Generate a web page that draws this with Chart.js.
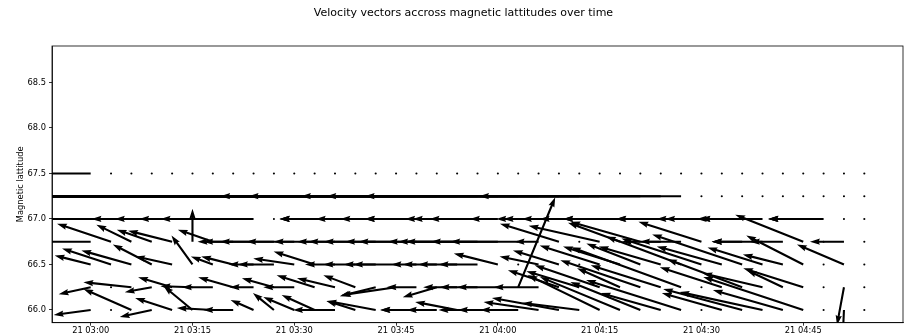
<!DOCTYPE html>
<html>
<head>
<meta charset="utf-8">
<script src="https://cdn.jsdelivr.net/npm/chart.js@4.4.1/dist/chart.umd.min.js"></script>
<style>
  html, body { margin: 0; padding: 0; background: #fff; }
</style>
</head>
<body>
<canvas id="quiverChart" width="905" height="336"></canvas>
<script>
// minutes after 21 03:00, one column every 3 minutes
const times = [0, 3, 6, 9, 12, 15, 18, 21, 24, 27, 30, 33, 36, 39, 42, 45, 48, 51, 54, 57,
  60, 63, 66, 69, 72, 75, 78, 81, 84, 87, 90, 93, 96, 99, 102, 105, 108, 111, 114];
const lats = [66.0, 66.25, 66.5, 66.75, 67.0, 67.25, 67.5];

const timeTicks = [0, 15, 30, 45, 60, 75, 90, 105];
const latTicks = [66.0, 66.5, 67.0, 67.5, 68.0, 68.5];

const chartTitle = "Velocity vectors accross magnetic lattitudes over time";

// east / north velocity components (quiver units), one value per column
const u_6600 = [-37, 0, -48, -32, -37, -29, -36, -30, -23, -21, -31, -33, -42, -29, -49, -16, -36, -30, -42, -39,
  -40, -38, -55, -67, -57, -72, -80, -70, -60, -95, 0, -60, -79, -83, -70, -100, 0, -1, 0];
const v_6600 = [-5, 0, 21, -7, 12, 24, 2, 0, 10, 17, 13, 15, 0, 9, 9, 0, 0, 0, 8, 0,
  0, 0, 8, 12, 7, 35, 33, 28, 17, 30, 0, 17, 21, 18, 20, 33, 0, -22, 0];

const u_6625 = [-32, 0, -48, -27, -34, -32, -31, -35, -24, -32, -31, -38, -38, -32, -36, -55, -30, -34, -34, -38,
  -41, 37, -45, -51, -53, -65, -43, -80, -70, -110, 0, -62, -75, -60, -36, -60, 0, -7, 0];
const v_6625 = [-7, 0, 5, -5, 10, 1, 0, 10, 0, 9, 0, 12, 9, 12, -9, -8, 0, -10, 0, 0,
  0, 90, 0, 17, 16, 22, 19, 27, 22, 40, 0, 20, 28, 14, 17, 19, 0, -38, 0];

const u_6650 = [-36, -49, -50, -39, -37, -21, -22, -32, -25, -36, -41, -41, -30, -32, -32, -43, -25, -34, -39, -39,
  -44, 0, -39, -46, 0, -60, -57, -54, -62, -75, -80, -65, -90, -55, -40, -57, 0, -47, 0];
const v_6650 = [9, 16, 14, 20, 8, 29, 8, 8, 0, 0, 6, 13, 0, 0, 0, 0, 0, 0, 0, 0,
  11, 0, 8, 14, 0, 19, 18, 21, 18, 28, 26, 18, 30, 17, 10, 29, 0, 20, 0];

const u_6675 = [-60, -54, -35, -35, -44, 0, -35, -30, -56, -54, -48, -41, -38, -47, -52, -51, -58, -49, -59, -72,
  -67, -68, -24, -59, 0, -71, -52, -70, -39, -41, -63, -10, -30, -51, -33, -68, 0, -34, 0];
const v_6675 = [0, 18, 17, 12, 11, 33, 12, 0, 0, 0, 0, 0, 0, 0, 0, 0, 0, 0, 0, 0,
  0, 0, 0, 18, 0, 16, 19, 20, 0, 0, 20, 0, 0, 0, 0, 27, 0, 0, 0];

const u_6700 = [-70, -90, -105, -120, -140, -101, -98, -94, -93, 0, -15, -35, -55, -15, -60, -31, -52, -24, -52, -48,
  -28, -22, -35, -37, -16, -60, -57, -24, -45, -16, -45, -25, -42, -62, -15, -35, -55, 0, 0];
const v_6700 = [0, 0, 0, 0, 0, 0, 0, 0, 0, 0, 0, 0, 0, 0, 0, 0, 0, 0, 0, 0,
  0, 0, 0, 0, 0, 0, 0, 0, 0, 0, 0, 0, 0, 0, 0, 0, 0, 0, 0];

const u_6725 = [-64, -88, -120, -131, -172, -168, -205, -223, -260, -248, -302, -291, -337, -330, -381, -372, -400, -446, -433, -470,
  -495, -512, -540, -566, -359, -351, -319, -314, -296, -202, 0, 0, 0, 0, 0, 0, 0, 0, 0];
const v_6725 = [0, 0, 0, 0, 0, 0, 0, 0, 0, 0, 0, 0, 0, 0, 0, 0, 0, 0, 0, 0,
  0, 0, 0, 0, 0, 0, 0, 0, 0, 0, 0, 0, 0, 0, 0, 0, 0, 0, 0];

const u_6750 = [-64, 0, 0, 0, 0, 0, 0, 0, 0, 0, 0, 0, 0, 0, 0, 0, 0, 0, 0, 0,
  0, 0, 0, 0, 0, 0, 0, 0, 0, 0, 0, 0, 0, 0, 0, 0, 0, 0, 0];
const v_6750 = [0, 0, 0, 0, 0, 0, 0, 0, 0, 0, 0, 0, 0, 0, 0, 0, 0, 0, 0, 0,
  0, 0, 0, 0, 0, 0, 0, 0, 0, 0, 0, 0, 0, 0, 0, 0, 0, 0, 0];

const uRows = [u_6600, u_6625, u_6650, u_6675, u_6700, u_6725, u_6750];
const vRows = [v_6600, v_6625, v_6650, v_6675, v_6700, v_6725, v_6750];

// quiver scale: how far one velocity unit reaches along each axis
const MIN_PER_UNIT = 0.1474;
const DEG_PER_UNIT = 0.01099;

// arrow shape, in pixels (matplotlib-like)
const SHAFT_W = 2.1;
const HEAD_W = 6.3;
const HEAD_LEN = 10;
const HEAD_AXIS = 9;

function fmtTime(v) {
  const h = 3 + Math.floor(v / 60);
  const m = v % 60;
  return "21 " + String(h).padStart(2, "0") + ":" + String(m).padStart(2, "0");
}

function drawArrow(ctx, x0, y0, x1, y1) {
  const dx = x1 - x0, dy = y1 - y0;
  const len = Math.hypot(dx, dy);
  if (len < SHAFT_W) {
    ctx.beginPath();
    ctx.arc(x0, y0, SHAFT_W / 2, 0, 2 * Math.PI);
    ctx.fill();
    return;
  }
  const s = Math.min(1, len / HEAD_LEN);
  const w = SHAFT_W * s / 2, hw = HEAD_W * s / 2;
  const hl = HEAD_LEN * s, ha = HEAD_AXIS * s;
  ctx.save();
  ctx.translate(x0, y0);
  ctx.rotate(Math.atan2(dy, dx));
  ctx.beginPath();
  ctx.moveTo(0, -w);
  ctx.lineTo(len - ha, -w);
  ctx.lineTo(len - hl, -hw);
  ctx.lineTo(len, 0);
  ctx.lineTo(len - hl, hw);
  ctx.lineTo(len - ha, w);
  ctx.lineTo(0, w);
  ctx.closePath();
  ctx.fill();
  ctx.restore();
}

const quiverPlugin = {
  id: "quiver",
  afterDatasetsDraw(chart) {
    const { ctx, chartArea: a, scales: { x, y } } = chart;
    ctx.save();
    ctx.beginPath();
    ctx.rect(a.left, a.top, a.right - a.left, a.bottom - a.top);
    ctx.clip();
    ctx.fillStyle = "#000";
    lats.forEach((lat, r) => {
      times.forEach((t, k) => {
        const x0 = x.getPixelForValue(t);
        const y0 = y.getPixelForValue(lat);
        const x1 = x.getPixelForValue(t + uRows[r][k] * MIN_PER_UNIT);
        const y1 = y.getPixelForValue(lat + vRows[r][k] * DEG_PER_UNIT);
        drawArrow(ctx, x0, y0, x1, y1);
      });
    });
    ctx.restore();

    // frame like matplotlib spines
    ctx.save();
    ctx.strokeStyle = "#000";
    ctx.lineWidth = 0.8;
    ctx.strokeRect(a.left, a.top, a.right - a.left, a.bottom - a.top);
    ctx.restore();
  },
  afterDraw(chart) {
    // figure title, placed like the reference suptitle
    const { ctx } = chart;
    ctx.save();
    ctx.fillStyle = "#000";
    ctx.font = "11px 'DejaVu Sans'";
    ctx.textAlign = "center";
    ctx.textBaseline = "middle";
    ctx.fillText(chartTitle, 463.5, 13);
    ctx.restore();
  }
};

const gridPoints = [];
lats.forEach(lat => times.forEach(t => gridPoints.push({ x: t, y: lat })));

const tickFont = { family: "DejaVu Sans", size: 8.3 };

const ctx = document.getElementById("quiverChart").getContext("2d");
const myChart = new Chart(ctx, {
  type: "scatter",
  data: {
    datasets: [
      {
        label: "grid",
        data: gridPoints,
        pointRadius: 0,
        showLine: false,
      },
    ],
  },
  plugins: [quiverPlugin],
  options: {
    responsive: false,
    animation: false,
    layout: { padding: { left: 0, right: 2, top: 46, bottom: 0 } },
    plugins: {
      legend: { display: false },
      tooltip: { enabled: false },
      title: { display: false },
    },
    scales: {
      x: {
        type: "linear",
        min: -5.7,
        max: 119.7,
        afterBuildTicks: (s) => { s.ticks = timeTicks.map((v) => ({ value: v })); },
        afterFit: (s) => { s.height = 13.3; },
        grid: { drawOnChartArea: false, tickLength: 3, color: "#000", lineWidth: 0.8 },
        border: { color: "#000", width: 0.8 },
        ticks: {
          padding: 0.5,
          color: "#000",
          font: tickFont,
          maxRotation: 0,
          autoSkip: false,
          callback: (value) => fmtTime(value),
        },
      },
      y: {
        type: "linear",
        min: 65.86,
        max: 68.9,
        afterBuildTicks: (s) => { s.ticks = latTicks.map((v) => ({ value: v })); },
        afterFit: (s) => { s.width = 52; },
        grid: { drawOnChartArea: false, tickLength: 3, color: "#000", lineWidth: 0.8 },
        border: { color: "#000", width: 0.8 },
        title: {
          display: true,
          text: "Magnetic lattitude",
          color: "#000",
          font: { family: "DejaVu Sans", size: 8.3 },
          padding: { top: 15.5, bottom: 0 },
        },
        ticks: {
          padding: 3,
          color: "#000",
          font: tickFont,
          callback: (value) => value.toFixed(1),
        },
      },
    },
  },
});
</script>
</body>
</html>
